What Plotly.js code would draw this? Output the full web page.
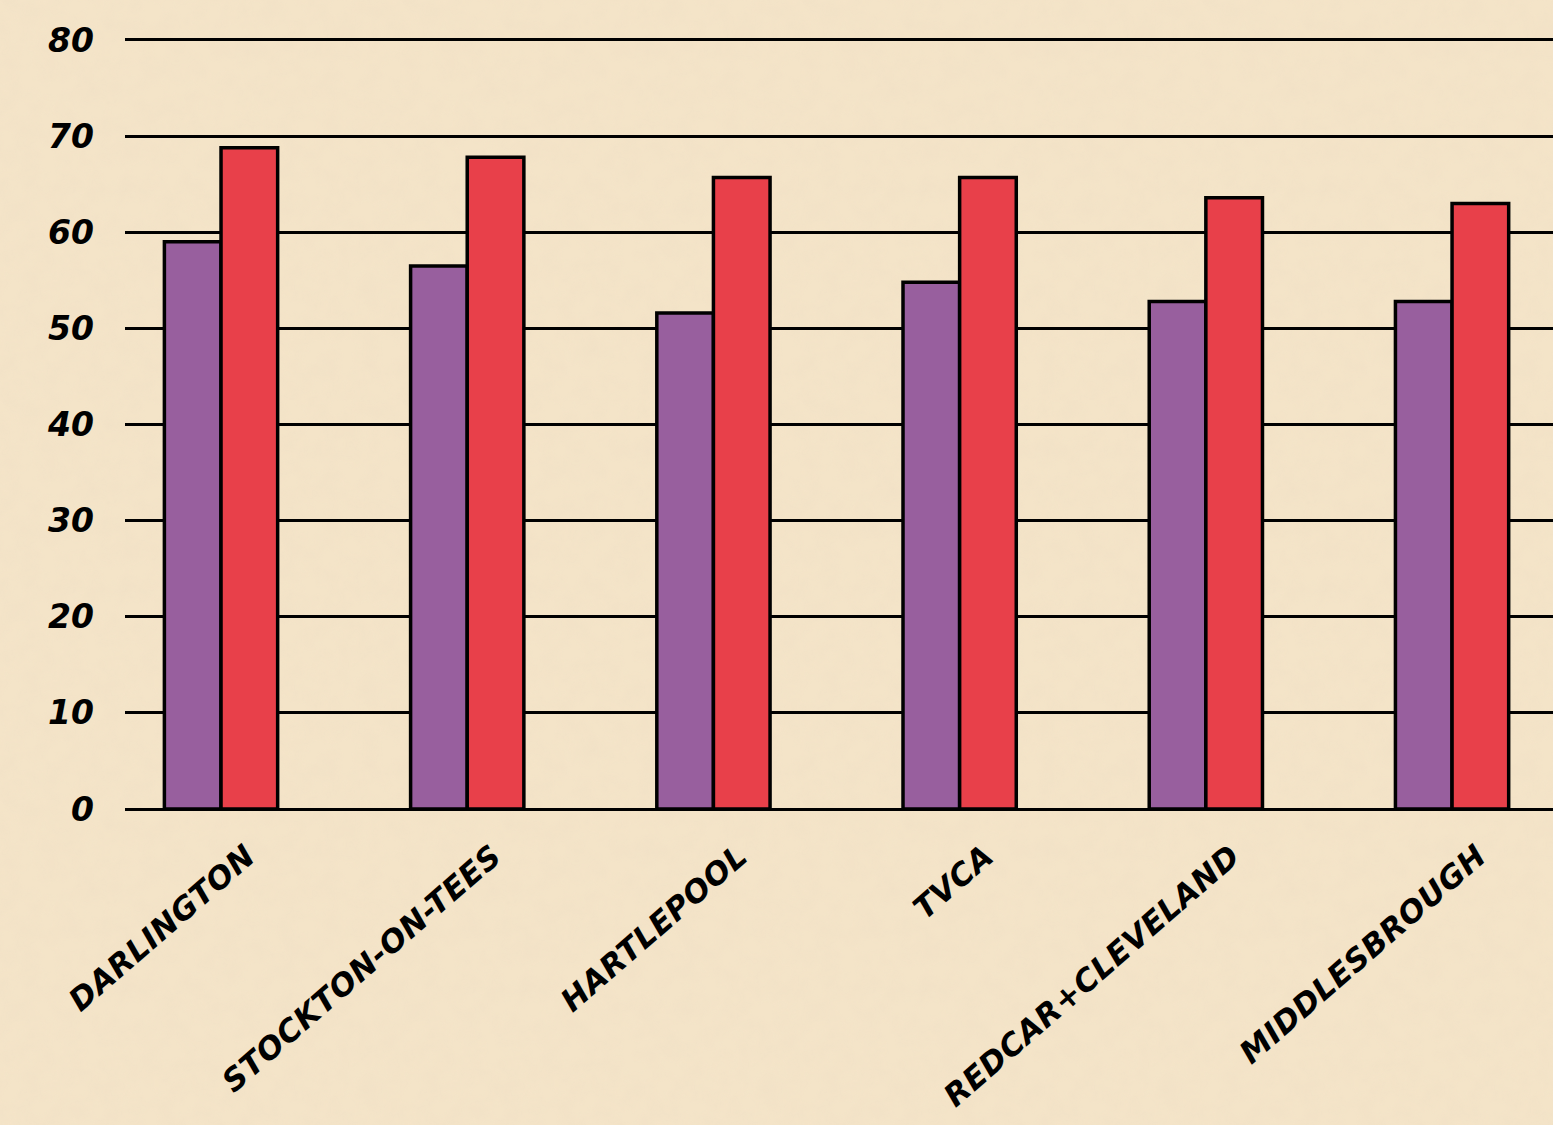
<!DOCTYPE html>
<html>
<head>
<meta charset="utf-8">
<script src="https://cdn.plot.ly/plotly-3.0.1.min.js"></script>
<style>
  html, body { margin: 0; padding: 0; }
  body {
    background-color: #f4e4c8;
    /* soft paper grain behind the transparent chart */
    background-image:
      url("data:image/svg+xml;utf8,<svg xmlns='http://www.w3.org/2000/svg' width='400' height='400'><filter id='n'><feTurbulence type='fractalNoise' baseFrequency='0.05' numOctaves='3' seed='7'/><feColorMatrix values='0 0 0 0 0.85  0 0 0 0 0.72  0 0 0 0 0.55  0 0 0 0.55 -0.18'/></filter><rect width='100%' height='100%' filter='url(%23n)'/></svg>");
  }
  #chart { width: 1553px; height: 1125px; }
  #chart .xtick text { letter-spacing: 0.5px; }
</style>
</head>
<body>
<div id="chart"></div>
<script>
// Areas along the x axis
const categories = ["DARLINGTON", "STOCKTON-ON-TEES", "HARTLEPOOL", "TVCA", "REDCAR+CLEVELAND", "MIDDLESBROUGH"];
// First (purple) and second (red) series per area
const purpleValues = [59, 56.5, 51.6, 54.8, 52.8, 52.8];
const redValues = [68.8, 67.8, 65.7, 65.7, 63.6, 63.0];
// Y axis ticks
const yTicks = [0, 10, 20, 30, 40, 50, 60, 70, 80];

const labelFont = { family: "DejaVu Sans, sans-serif", size: 33, color: "#000", weight: "bold", style: "italic" };

const traces = [
  {
    type: "bar", x: categories, y: purpleValues, name: "purple",
    marker: { color: "#985f9e", line: { color: "#000", width: 3.5 } },
    hoverinfo: "x+y"
  },
  {
    type: "bar", x: categories, y: redValues, name: "red",
    marker: { color: "#e8404a", line: { color: "#000", width: 3.5 } },
    hoverinfo: "x+y"
  }
];

const layout = {
  width: 1553, height: 1125,
  paper_bgcolor: "rgba(0,0,0,0)", plot_bgcolor: "rgba(0,0,0,0)",
  margin: { l: 125, r: 0, t: 37, b: 316 },
  showlegend: false,
  barmode: "group", bargap: 0.54, bargroupgap: 0,
  xaxis: {
    type: "category",
    range: [-0.39, 5.41],
    showgrid: false, showline: false, zeroline: false,
    ticks: "", tickangle: -41,
    tickfont: { ...labelFont, size: 31 },
    ticklabelstandoff: 22,
    ticklabelshift: 26
  },
  yaxis: {
    range: [0, 80.31],
    tickvals: yTicks, ticktext: yTicks.map(String),
    showgrid: true, gridcolor: "#000", gridwidth: 3,
    zeroline: true, zerolinecolor: "#000", zerolinewidth: 3,
    showline: false, ticks: "",
    tickfont: labelFont,
    ticklabelstandoff: 30
  }
};

Plotly.newPlot("chart", traces, layout, { displayModeBar: false, staticPlot: true });
</script>
</body>
</html>
